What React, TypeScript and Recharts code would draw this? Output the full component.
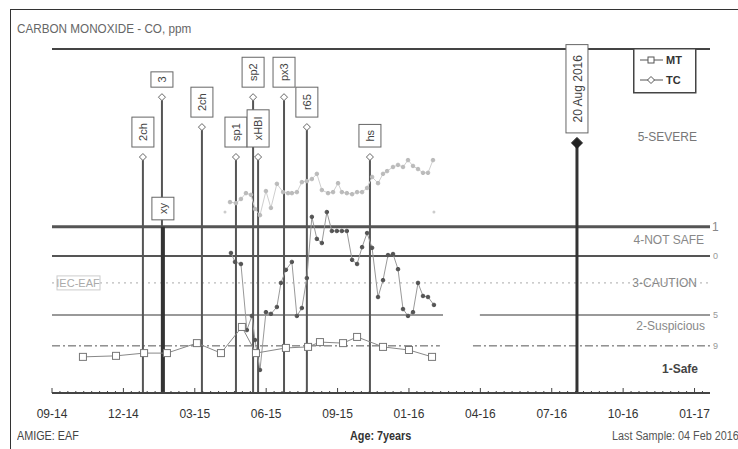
import * as React from 'react';
import { ComposedChart, Line, Scatter, XAxis, YAxis, ReferenceLine, ReferenceDot, Legend } from 'recharts';

const FONT = '"Liberation Sans Narrow", "Liberation Sans", Arial, sans-serif';

// x = months since Sep 2014, y = level in % of plot height
const tickLabels = ['09-14', '12-14', '03-15', '06-15', '09-15', '01-16', '04-16', '07-16', '10-16', '01-17'];
const tickMonths = [0, 3, 6, 9, 12, 15, 18, 21, 24, 27];

const mtMonths = [1.30, 2.69, 3.87, 4.83, 6.09, 7.10, 7.98, 8.57, 9.83, 10.76, 11.26, 12.23, 12.82, 13.91, 15.00, 15.97];
const mtLevels = [10.5, 10.8, 11.6, 11.6, 14.5, 11.6, 19.2, 11.6, 13.1, 13.4, 14.8, 14.5, 16.3, 13.4, 12.5, 10.5];

const tcMonths = [7.52, 7.69, 7.94, 8.19, 8.40, 8.53, 8.74, 8.99, 9.20, 9.45, 9.62, 9.83, 10.08, 10.29, 10.50, 10.71, 10.92, 11.13, 11.34, 11.55,
  11.76, 11.97, 12.18, 12.39, 12.61, 12.82, 13.03, 13.24, 13.45, 13.70, 13.91, 14.12, 14.33, 14.54, 14.75, 14.96, 15.17, 15.38, 15.59, 15.80, 16.05];
const tcLevels = [40.7, 38.1, 37.5, 18.3, 22.4, 15.4, 6.7, 23.5, 23.0, 25.0, 32.0, 35.8, 38.1, 22.4, 24.7, 33.4, 51.2, 44.8, 43.6, 52.6,
  47.1, 47.1, 47.1, 47.1, 38.7, 37.5, 42.4, 46.5, 42.2, 27.9, 32.8, 40.1, 40.4, 36.0, 24.4, 22.4, 23.5, 32.0, 28.2, 27.9, 25.6];

const prevMonths = [7.48, 7.73, 7.94, 8.15, 8.36, 8.53, 8.74, 8.99, 9.20, 9.45, 9.71, 9.92, 10.08, 10.29, 10.50, 10.71, 10.92, 11.13, 11.34, 11.60,
  11.81, 12.02, 12.18, 12.39, 12.61, 12.82, 13.03, 13.24, 13.45, 13.70, 13.91, 14.08, 14.33, 14.54, 14.75, 14.96, 15.17, 15.38, 15.59, 15.80, 16.01];
const prevLevels = [55.5, 55.2, 56.4, 58.1, 57.6, 53.5, 51.7, 58.7, 53.8, 60.8, 58.4, 58.1, 58.1, 58.4, 61.3, 61.6, 62.2, 63.7, 59.0, 58.1,
  58.4, 61.0, 58.4, 58.1, 57.8, 58.4, 58.4, 59.6, 62.8, 61.0, 63.7, 64.5, 65.7, 66.3, 65.7, 67.7, 66.0, 65.1, 64.0, 64.0, 67.7];
const strayMonths = [7.27, 16.05];
const strayLevels = [52.6, 52.6];

const eventNames = ['2ch', '3', 'xy', '2ch', 'sp1', 'sp2', 'xHBI', 'px3', 'r65', 'hs', '20 Aug 2016'];
const eventMonths = [3.82, 4.62, 4.66, 6.30, 7.73, 8.45, 8.66, 9.75, 10.71, 13.36, 22.06];
const eventTops = [68.6, 86.0, 48.3, 77.3, 68.6, 86.0, 68.6, 86.0, 77.3, 68.6, 72.7];
const eventKinds = ['note', 'note', 'heavy', 'note', 'note', 'note', 'note', 'note', 'note', 'note', 'target'];

const limitNotSafe = 48.3;
const limitCaution = 39.8;
const limitIec = 32.0;
const limitSuspicious = 22.7;
const limitSafe = 13.7;
const limitTags = ['1', '0', '5', '9'];

const zoneNames = ['5-SEVERE', '4-NOT SAFE', '3-CAUTION', '2-Suspicious', '1-Safe'];
const zoneLevels = [74.4, 44.5, 32.0, 19.5, 7.0];

const X_MAX = 27.65;

const zip = (xs: number[], ys: number[]) => xs.map((x, i) => ({ x, y: ys[i] }));
const mtData = zip(mtMonths, mtLevels);
const tcData = zip(tcMonths, tcLevels);
const prevData = zip(prevMonths, prevLevels);
const strayData = zip(strayMonths, strayLevels);

const xTicks: number[] = [];
for (let i = 0; i <= 82; i++) xTicks.push(i / 3);
const leftTicks: number[] = [];
for (let i = 0; i <= 25; i++) leftTicks.push(i * 4);
const rightTicks: number[] = [];
for (let i = 0; i <= 40; i++) rightTicks.push(i * 2.5);

const kindStyle: any = {
  note: { width: 2, color: '#555', gap: 10 },
  heavy: { width: 4, color: '#333', gap: 7 },
  target: { width: 3, color: '#333', gap: 10 },
};
const zoneStyle = [
  { end: 12, color: '#777', weight: 'normal' },
  { end: 5, color: '#888', weight: 'normal' },
  { end: 12, color: '#888', weight: 'normal' },
  { end: 4, color: '#888', weight: 'normal' },
  { end: 11, color: '#444', weight: 'bold' },
];

const XTick = (props: any) => {
  const { x, y, payload } = props;
  const k = tickMonths.findIndex((m) => Math.abs(m - payload.value) < 1e-6);
  return (
    <g>
      <line x1={x} x2={x} y1={y} y2={y - (k >= 0 ? 5 : 2)} stroke="#444" />
      {k >= 0 && (
        <text x={x} y={y + 25} textAnchor="middle" fontSize={12} fill="#333" fontFamily={FONT}>{tickLabels[k]}</text>
      )}
    </g>
  );
};

const LeftTick = (props: any) => {
  const { x, y, payload } = props;
  const major = payload.value % 40 === 20;
  return <line x1={x} x2={x + (major ? 5 : 3)} y1={y} y2={y} stroke="#444" />;
};

const RightTick = (props: any) => {
  const { x, y, payload } = props;
  const major = payload.value % 12.5 === 0;
  return <line x1={x} x2={x - (major ? 5 : 3)} y1={y} y2={y} stroke="#555" />;
};

const SquareDot = (props: any) => {
  const { cx, cy, index } = props;
  return <rect key={'sq' + index} x={cx - 3.5} y={cy - 3.5} width={7} height={7} fill="#fff" stroke="#777" />;
};

const EventMark = ({ viewBox, name, kind }: any) => {
  const st = kindStyle[kind];
  const x = viewBox.x;
  const y = viewBox.y;
  const fs = kind === 'target' ? 12 : 11;
  const h = 8 + name.length * 7.3;
  const w = 22;
  const bottom = y - st.gap;
  const d = kind === 'target' ? 5.5 : 3.5;
  return (
    <g>
      <rect x={x - w / 2} y={bottom - h} width={w} height={h} fill="#fff" stroke="#666" />
      <text transform={`translate(${x + fs / 2.6},${bottom - h / 2}) rotate(-90)`} textAnchor="middle" fontSize={fs} fill="#444" fontFamily={FONT}>{name}</text>
      {kind !== 'heavy' && (
        <path d={`M${x},${y - d} L${x + d},${y} L${x},${y + d} L${x - d},${y} Z`}
          fill={kind === 'target' ? '#222' : '#fff'} stroke={kind === 'target' ? '#222' : '#666'} />
      )}
    </g>
  );
};

const IecLabel = ({ viewBox }: any) => (
  <g>
    <rect x={viewBox.x + 5} y={viewBox.y - 7} width={43} height={14} fill="#fff" stroke="#ccc" />
    <text x={viewBox.x + 26} y={viewBox.y + 4} textAnchor="middle" fontSize={11} fill="#aaa" fontFamily={FONT}>IEC-EAF</text>
  </g>
);

const LegendBox = () => (
  <svg width={64} height={46}>
    <rect x={0.75} y={0.75} width={62} height={44} fill="#fff" stroke="#444" strokeWidth={1.5} />
    <line x1={7} x2={30} y1={12} y2={12} stroke="#555" />
    <rect x={15} y={9} width={6} height={6} fill="#fff" stroke="#555" />
    <text x={33} y={16} fontSize={11} fontWeight="bold" fill="#333" fontFamily={FONT}>MT</text>
    <line x1={7} x2={30} y1={32} y2={32} stroke="#555" />
    <path d="M18,28.5 L21.5,32 L18,35.5 L14.5,32 Z" fill="#fff" stroke="#555" />
    <text x={33} y={36} fontSize={11} fontWeight="bold" fill="#333" fontFamily={FONT}>TC</text>
  </svg>
);

const narrow = (left: number, top: number, extra: any) => ({
  position: 'absolute' as const, left, top, whiteSpace: 'nowrap' as const,
  transform: 'scaleX(0.9)', transformOrigin: 'left center', ...extra,
});

export default function App() {
  return (
    <div style={{ position: 'absolute', left: 0, top: 0, width: 738, height: 449, background: '#fff', overflow: 'hidden', fontFamily: FONT }}>
      <div style={{ position: 'absolute', left: 10, top: 9, width: 760, height: 460, borderLeft: '1.5px solid #333', borderTop: '1.5px solid #333' }} />
      <div style={narrow(17, 21, { fontSize: 13, color: '#666' })}>CARBON MONOXIDE - CO, ppm</div>
      <div style={narrow(17, 429, { fontSize: 12, color: '#444' })}>AMIGE: EAF</div>
      <div style={narrow(350, 429, { fontSize: 12, color: '#333', fontWeight: 'bold' })}>Age: 7years</div>
      <div style={narrow(612, 429, { fontSize: 12, color: '#555' })}>Last Sample: 04 Feb 2016</div>
      <ComposedChart width={738} height={449} margin={{ top: 49, right: 28, left: 52, bottom: 26 }}>
        <XAxis type="number" dataKey="x" domain={[0, X_MAX]} ticks={xTicks} interval={0} height={30}
          tickSize={0} tickMargin={0} tickLine={false} tick={XTick} axisLine={{ stroke: '#444', strokeWidth: 2 }} allowDataOverflow />
        <YAxis type="number" domain={[0, 100]} ticks={leftTicks} interval={0} width={0}
          tickSize={0} tickMargin={0} tickLine={false} tick={LeftTick} axisLine={{ stroke: '#444', strokeWidth: 1.5 }} />
        <YAxis yAxisId="r" orientation="right" type="number" domain={[0, 100]} ticks={rightTicks} interval={0} width={0}
          tickSize={0} tickMargin={0} tickLine={false} tick={RightTick} axisLine={{ stroke: '#555', strokeWidth: 1 }} />

        <ReferenceLine y={100} stroke="#444" strokeWidth={2} />
        <ReferenceLine y={limitNotSafe} stroke="#555" strokeWidth={3}
          label={{ value: limitTags[0], position: 'right', fill: '#888', fontSize: 12, offset: 2 }} />
        <ReferenceLine y={limitCaution} stroke="#555" strokeWidth={2}
          label={{ value: limitTags[1], position: 'right', fill: '#999', fontSize: 9, offset: 3 }} />
        <ReferenceLine y={limitIec} stroke="#aaa" strokeDasharray="2 4" label={(p: any) => <IecLabel viewBox={p.viewBox} />} />
        <ReferenceLine segment={[{ x: 0, y: limitSuspicious }, { x: 16.43, y: limitSuspicious }]} stroke="#999" strokeWidth={2} />
        <ReferenceLine segment={[{ x: 17.98, y: limitSuspicious }, { x: X_MAX, y: limitSuspicious }]} stroke="#999" strokeWidth={2}
          label={{ value: limitTags[2], position: 'right', fill: '#999', fontSize: 9, offset: 3 }} />
        <ReferenceLine segment={[{ x: 0, y: limitSafe }, { x: 16.3, y: limitSafe }]} stroke="#555" strokeDasharray="8 3 2 3" />
        <ReferenceLine segment={[{ x: 17.69, y: limitSafe }, { x: X_MAX, y: limitSafe }]} stroke="#555" strokeDasharray="8 3 2 3"
          label={{ value: limitTags[3], position: 'right', fill: '#999', fontSize: 9, offset: 3 }} />

        {eventNames.map((name, i) => (
          <ReferenceLine key={'ev' + i} segment={[{ x: eventMonths[i], y: 0 }, { x: eventMonths[i], y: eventTops[i] }]}
            stroke={kindStyle[eventKinds[i]].color} strokeWidth={kindStyle[eventKinds[i]].width}
            label={(p: any) => <EventMark viewBox={p.viewBox} name={name} kind={eventKinds[i]} />} />
        ))}

        {zoneNames.map((name, i) => (
          <ReferenceDot key={'zone' + i} x={X_MAX} y={zoneLevels[i]} r={1} fill="none" stroke="none"
            label={(p: any) => (
              <text x={p.viewBox.x - zoneStyle[i].end} y={p.viewBox.y + 5} textAnchor="end" fontSize={12}
                fill={zoneStyle[i].color} fontWeight={zoneStyle[i].weight} fontFamily={FONT}>{name}</text>
            )} />
        ))}

        <Line data={prevData} dataKey="y" name="prev" stroke="#cfcfcf" strokeWidth={1} legendType="none"
          dot={{ r: 1.8, fill: '#bbb', stroke: '#bbb' }} isAnimationActive={false} />
        <Scatter data={strayData} dataKey="y" name="stray" fill="#ccc" legendType="none" isAnimationActive={false}
          shape={(p: any) => <circle cx={p.cx} cy={p.cy} r={1.5} fill="#ccc" />} />
        <Line data={tcData} dataKey="y" name="TC" stroke="#999" strokeWidth={1}
          dot={{ r: 1.8, fill: '#555', stroke: '#555' }} isAnimationActive={false} />
        <Line data={mtData} dataKey="y" name="MT" stroke="#888" strokeWidth={1} dot={SquareDot} isAnimationActive={false} />

        <Legend layout="horizontal" verticalAlign="middle" align="center" content={LegendBox}
          wrapperStyle={{ position: 'absolute', left: 633, top: 48, width: 64, height: 46 }} />
      </ComposedChart>
    </div>
  );
}
